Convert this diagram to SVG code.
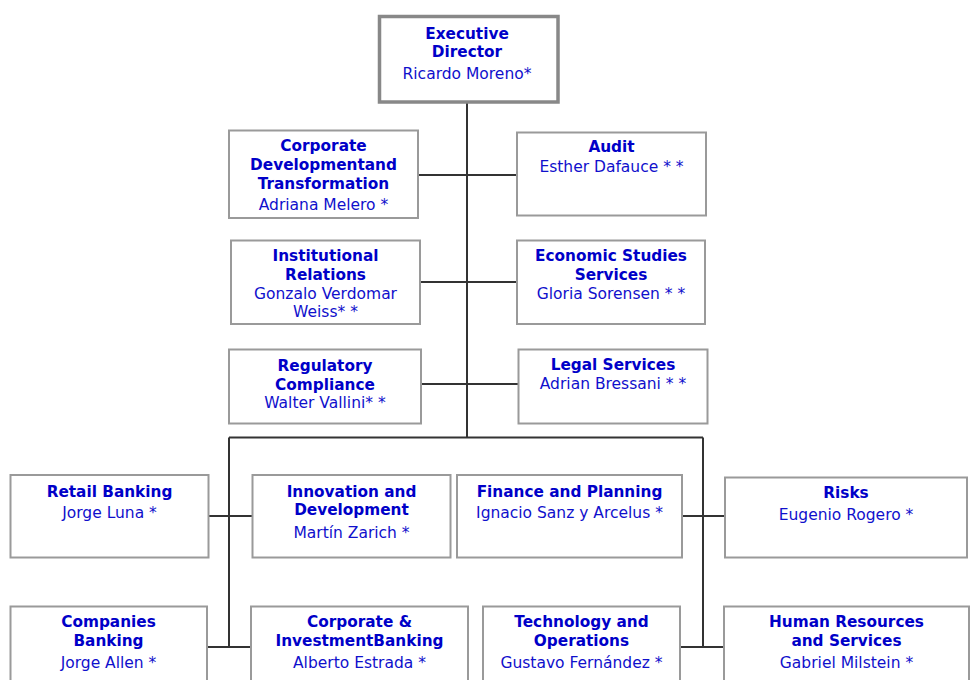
<svg xmlns="http://www.w3.org/2000/svg" width="971" height="680" viewBox="0 0 971 680">
<style>
.box{fill:#fff;stroke:#9a9a9a;stroke-width:2}
.exec{fill:#fff;stroke:#888;stroke-width:3.5}
.ln{fill:none;stroke:#333;stroke-width:2}
text{font-family:"DejaVu Sans","Verdana",sans-serif;text-anchor:middle;fill:#1010cc}
.t{font-weight:bold;font-size:15.3px;fill:#0000c8}
.n{font-size:15.5px}
</style>
<rect width="971" height="680" fill="#fff"/>
<g id="connectors">
<path class="ln" d="M467,103 V437.5 M418,175 H517 M420,282 H517 M421,384 H518 M229,437.5 H703 M229,437.5 V647 M703,437.5 V647 M208,516 H252 M682,516 H725 M207,647 H251 M680,647 H724"/>
</g>
<g id="exec">
<rect class="exec" x="379.5" y="16.5" width="178.5" height="85.5"/>
<text class="t" x="467" y="39">Executive</text>
<text class="t" x="467" y="57">Director</text>
<text class="n" x="467" y="79">Ricardo Moreno*</text>
</g>
<g id="corpdev">
<rect class="box" x="229" y="130.5" width="189" height="87.5"/>
<text class="t" x="323.5" y="151">Corporate</text>
<text class="t" x="323.5" y="170">Developmentand</text>
<text class="t" x="323.5" y="189">Transformation</text>
<text class="n" x="323.5" y="210">Adriana Melero *</text>
</g>
<g id="audit">
<rect class="box" x="517" y="132.5" width="189" height="83"/>
<text class="t" x="611.5" y="152">Audit</text>
<text class="n" x="611.5" y="172">Esther Dafauce * *</text>
</g>
<g id="instrel">
<rect class="box" x="231" y="240.5" width="189" height="83.5"/>
<text class="t" x="325.5" y="261">Institutional</text>
<text class="t" x="325.5" y="280">Relations</text>
<text class="n" x="325.5" y="299">Gonzalo Verdomar</text>
<text class="n" x="325.5" y="317">Weiss* *</text>
</g>
<g id="econ">
<rect class="box" x="517" y="240.5" width="188" height="83.5"/>
<text class="t" x="611" y="261">Economic Studies</text>
<text class="t" x="611" y="280">Services</text>
<text class="n" x="611" y="299">Gloria Sorensen * *</text>
</g>
<g id="regcomp">
<rect class="box" x="229" y="349.5" width="192" height="74"/>
<text class="t" x="325" y="371">Regulatory</text>
<text class="t" x="325" y="390">Compliance</text>
<text class="n" x="325" y="408">Walter Vallini* *</text>
</g>
<g id="legal">
<rect class="box" x="518.5" y="349.5" width="189" height="74"/>
<text class="t" x="613" y="370">Legal Services</text>
<text class="n" x="613" y="389">Adrian Bressani * *</text>
</g>
<g id="retail">
<rect class="box" x="10.5" y="475" width="198" height="82.5"/>
<text class="t" x="109.5" y="497">Retail Banking</text>
<text class="n" x="109.5" y="518">Jorge Luna *</text>
</g>
<g id="innov">
<rect class="box" x="252.5" y="475" width="198" height="82.5"/>
<text class="t" x="351.5" y="497">Innovation and</text>
<text class="t" x="351.5" y="515">Development</text>
<text class="n" x="351.5" y="538">Martín Zarich *</text>
</g>
<g id="finance">
<rect class="box" x="457" y="475" width="225" height="82.5"/>
<text class="t" x="569.5" y="497">Finance and Planning</text>
<text class="n" x="569.5" y="518">Ignacio Sanz y Arcelus *</text>
</g>
<g id="risks">
<rect class="box" x="725" y="477.5" width="242" height="80"/>
<text class="t" x="846" y="498">Risks</text>
<text class="n" x="846" y="520">Eugenio Rogero *</text>
</g>
<g id="companies">
<rect class="box" x="10.5" y="606.5" width="196.5" height="90"/>
<text class="t" x="108.5" y="627">Companies</text>
<text class="t" x="108.5" y="646">Banking</text>
<text class="n" x="108.5" y="668">Jorge Allen *</text>
</g>
<g id="cib">
<rect class="box" x="251" y="606.5" width="217" height="90"/>
<text class="t" x="359.5" y="627">Corporate &amp;</text>
<text class="t" x="359.5" y="646">InvestmentBanking</text>
<text class="n" x="359.5" y="668">Alberto Estrada *</text>
</g>
<g id="tech">
<rect class="box" x="483" y="606.5" width="197" height="90"/>
<text class="t" x="581.5" y="627">Technology and</text>
<text class="t" x="581.5" y="646">Operations</text>
<text class="n" x="581.5" y="668">Gustavo Fernández *</text>
</g>
<g id="hr">
<rect class="box" x="724" y="606.5" width="245" height="90"/>
<text class="t" x="846.5" y="627">Human Resources</text>
<text class="t" x="846.5" y="646">and Services</text>
<text class="n" x="846.5" y="668">Gabriel Milstein *</text>
</g>
</svg>
